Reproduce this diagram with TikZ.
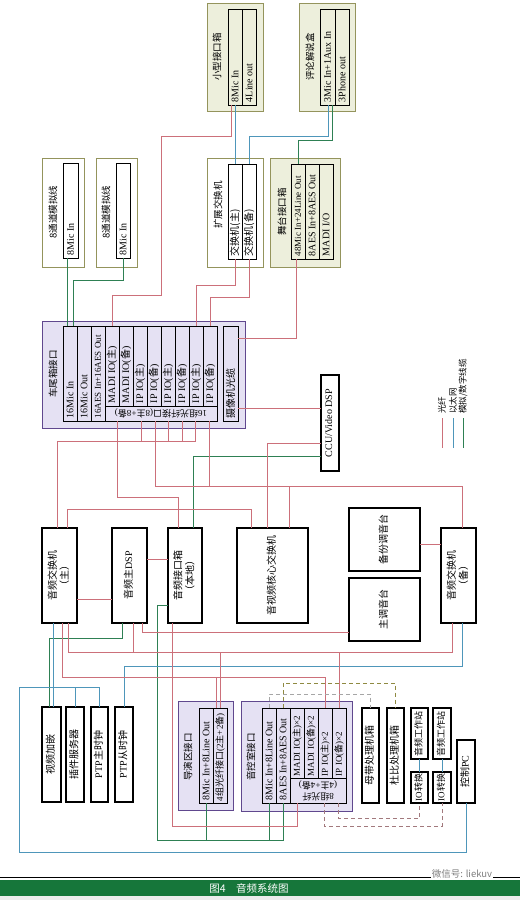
\documentclass[tikz,border=0pt]{standalone}
\usepackage{fontspec}
\usepackage{graphicx}
\setmainfont{Liberation Serif}
\newfontfamily\zh{Noto Sans CJK SC}
\definecolor{fibre}{RGB}{204,112,122}
\definecolor{ether}{RGB}{78,150,186}
\definecolor{analog}{RGB}{46,128,84}
\definecolor{olvfill}{RGB}{237,239,220}
\definecolor{olvline}{RGB}{148,148,92}
\definecolor{lavfill}{RGB}{229,225,243}
\definecolor{lavline}{RGB}{96,72,142}
\definecolor{band}{RGB}{22,118,58}
\newcommand{\vtxt}[2]{\rotatebox{90}{\makebox[#1][l]{#2}}}
\newcommand{\vmid}[1]{\rotatebox{90}{\begin{tabular}{@{}c@{}}#1\end{tabular}}}
\tikzset{
  base/.style={inner sep=0pt, outer sep=0pt, anchor=north west},
  dev/.style n args={2}{base, draw=black, line width=1.2pt, fill=white, minimum width=#1pt, minimum height=#2pt},
  port/.style n args={2}{base, draw=black, line width=1pt, minimum width=#1pt, minimum height=#2pt},
  olv group/.style n args={2}{base, draw=olvline, line width=1pt, fill=olvfill, minimum width=#1pt, minimum height=#2pt},
  wht group/.style n args={2}{base, draw=olvline, line width=1pt, fill=white, minimum width=#1pt, minimum height=#2pt},
  lav group/.style n args={2}{base, draw=lavline, line width=1pt, fill=lavfill, minimum width=#1pt, minimum height=#2pt},
  grp title/.style={rotate=90, inner sep=0pt, font=\zh\fontsize{9.5}{10}\selectfont},
  legend lbl/.style={rotate=90, anchor=west, inner sep=0pt, font=\zh\fontsize{8.5}{9}\selectfont},
  small/.style={font=\fontsize{9}{10}\selectfont},
  fib/.style={draw=fibre, line width=0.8pt},
  eth/.style={draw=ether, line width=0.8pt},
  ana/.style={draw=analog, line width=0.8pt},
  dsh/.style={dash pattern=on 4pt off 3pt, line width=0.9pt}
}
\begin{document}
\begin{tikzpicture}[x=1pt, y=-1pt, font=\fontsize{10}{11}\selectfont]
\useasboundingbox (0,0) rectangle (520,900);

% top interface boxes
\node[olv group={56}{108}] (gSmall) at (207,3) {};
\node[grp title] (tSmall) at (217,57) {小型接口箱};
\node[port={14}{96}] (sm1) at (228,9) {\vtxt{90pt}{8Mic In}};
\node[port={14}{96}] (sm2) at (242,9) {\vtxt{90pt}{4Line out}};

\node[olv group={56}{108}] (gCom) at (299,3) {};
\node[grp title] (tCom) at (310,57) {评论解说盒};
\node[port={15}{96}] (cm1) at (320,9) {\vtxt{90pt}{3Mic In+1Aux In}};
\node[port={14}{96}] (cm2) at (335,9) {\vtxt{90pt}{3Phone out}};

\node[wht group={42}{109}] (gAna1) at (42,158) {};
\node[grp title] (tAna1) at (53,212) {8通道模拟线};
\node[port={15}{95}] (a1) at (63,163) {\vtxt{89pt}{8Mic In}};

\node[wht group={41}{109}] (gAna2) at (96,158) {};
\node[grp title] (tAna2) at (106,212) {8通道模拟线};
\node[port={14}{95}] (a2) at (116,163) {\vtxt{89pt}{8Mic In}};

\node[wht group={56}{109}] (gExt) at (207,158) {};
\node[grp title] (tExt) at (218,205) {扩展交换机};
\node[port={14}{95}] (e1) at (228,164) {\vtxt{89pt}{\zh 交换机(主)}};
\node[port={14}{95}] (e2) at (242,164) {\vtxt{89pt}{\zh 交换机(备)}};

\node[olv group={70}{109}] (gStage) at (270,158) {};
\node[grp title] (tStage) at (282,212) {舞台接口箱};
\node[port={14}{95}, small] (s1) at (291,164) {\vtxt{89pt}{48Mic In+24Line Out}};
\node[port={14}{95}] (s2) at (305,164) {\vtxt{89pt}{8AES In+8AES Out}};
\node[port={14}{95}] (s3) at (319,164) {\vtxt{89pt}{MADI I/O}};

% truck tail interface
\node[lav group={203}{107}] (gTail) at (42,321) {};
\node[grp title] (tTail) at (53,374) {车尾箱接口};
\node[port={14}{95}] (t1) at (63,326) {\vtxt{89pt}{16Mic In}};
\node[port={14}{95}] (t2) at (77,326) {\vtxt{89pt}{16Mic Out}};
\node[port={14}{95}, small] (t3) at (91,326) {\vtxt{89pt}{16AES In+16AES Out}};
\node[port={14}{80}] (t4) at (105,326) {\vtxt{74pt}{MADI IO({\zh 主})}};
\node[port={14}{80}] (t5) at (119,326) {\vtxt{74pt}{MADI IO({\zh 备})}};
\node[port={14}{80}] (t6) at (133,326) {\vtxt{74pt}{IP IO({\zh 主})}};
\node[port={14}{80}] (t7) at (147,326) {\vtxt{74pt}{IP IO({\zh 备})}};
\node[port={14}{80}] (t8) at (161,326) {\vtxt{74pt}{IP IO({\zh 主})}};
\node[port={14}{80}] (t9) at (175,326) {\vtxt{74pt}{IP IO({\zh 备})}};
\node[port={14}{80}] (t10) at (189,326) {\vtxt{74pt}{IP IO({\zh 主})}};
\node[port={14}{80}] (t11) at (203,326) {\vtxt{74pt}{IP IO({\zh 备})}};
\node[port={112}{15}, small] (tFib) at (105,406) {\rotatebox{180}{16{\zh 组光纤接口}(8{\zh 主}+8{\zh 备})}};
\node[port={15}{95}] (tCam) at (223,326) {\vtxt{89pt}{\zh 摄像机光缆}};

% main devices
\node[dev={18}{96}] (ccu) at (321,375) {\vmid{CCU/Video DSP}};
\node[dev={35}{95}] (swA) at (42,528) {\vmid{\zh 音频交换机\\\zh （主）}};
\node[dev={35}{95}] (dsp) at (112,528) {\vmid{{\zh 音频主}DSP}};
\node[dev={34}{95}] (loc) at (168,528) {\vmid{\zh 音频接口箱\\\zh （本地）}};
\node[dev={71}{95}] (core) at (237,528) {\vmid{\zh 音视频核心交换机}};
\node[dev={71}{63}] (bak) at (349,508) {\vmid{\zh 备份调音台}};
\node[dev={71}{63}] (main) at (349,578) {\vmid{\zh 主调音台}};
\node[dev={35}{95}] (swB) at (441,528) {\vmid{\zh 音频交换机\\\zh （备）}};

% legend
\draw[fib] (442,418) -- (442,448);
\draw[eth] (453,418) -- (453,448);
\draw[ana] (463,418) -- (463,448);
\node[legend lbl] (lFib) at (442,414) {光纤};
\node[legend lbl] (lEth) at (453,414) {以太网};
\node[legend lbl] (lAna) at (463,414) {模拟/数字线缆};

% lower left devices
\node[dev={19}{95}] (vid) at (42,707) {\vmid{\zh 视频加嵌}};
\node[dev={18}{95}] (plug) at (66,707) {\vmid{\zh 插件服务器}};
\node[dev={17}{95}] (ptpM) at (91,707) {\vmid{PTP{\zh 主时钟}}};
\node[dev={18}{95}] (ptpS) at (115,707) {\vmid{PTP{\zh 从时钟}}};

% director and control room interfaces
\node[lav group={55}{109}] (gDir) at (178,701) {};
\node[grp title] (tDir) at (188,757) {导演区接口};
\node[port={14}{95}] (d1) at (199,708) {\vtxt{89pt}{8Mic In+8Line Out}};
\node[port={14}{95}, small] (d2) at (213,708) {\vtxt{91pt}{4{\zh 组光纤接口}(2{\zh 主}+2{\zh 备})}};

\node[lav group={111}{110}] (gCtl) at (241,701) {};
\node[grp title] (tCtl) at (251,757) {音控室接口};
\node[port={14}{95}] (c1) at (262,708) {\vtxt{89pt}{8Mic In+8Line Out}};
\node[port={14}{95}] (c2) at (276,708) {\vtxt{89pt}{8AES In+8AES Out}};
\node[port={14}{70}, small] (c3) at (290,708) {\vtxt{66pt}{MADI IO({\zh 主})×2}};
\node[port={14}{70}, small] (c4) at (304,708) {\vtxt{66pt}{MADI IO({\zh 备})×2}};
\node[port={14}{70}, small] (c5) at (318,708) {\vtxt{66pt}{IP IO({\zh 主})×2}};
\node[port={14}{70}, small] (c6) at (332,708) {\vtxt{66pt}{IP IO({\zh 备})×2}};
\node[port={56}{25}, font=\fontsize{9}{10}\selectfont] (cFib) at (290,778) {\rotatebox{180}{\begin{tabular}{@{}c@{}}8{\zh 组光纤}\\(4{\zh 主}+4{\zh 备})\end{tabular}}};

% lower right devices
\node[dev={17}{95}] (mst) at (362,708) {\vmid{\zh 母带处理机箱}};
\node[dev={17}{95}] (dol) at (387,708) {\vmid{\zh 杜比处理机箱}};
\node[dev={17}{51}, small] (ws1) at (411,708) {\vmid{\zh 音频工作站}};
\node[dev={17}{31}, small] (io1) at (411,772) {\vmid{IO{\zh 转换}}};
\node[dev={18}{51}, small] (ws2) at (433,708) {\vmid{\zh 音频工作站}};
\node[dev={18}{31}, small] (io2) at (433,772) {\vmid{IO{\zh 转换}}};
\node[dev={18}{63}] (pc) at (457,740) {\vmid{{\zh 控制}PC}};

% analog / digital cables
\draw[ana] (a1.south -| 67,0) -- (t1.north -| 67,0);
\draw[ana] (a2.south) |- (73,280) -- (t1.north -| 73,0);
\draw[ana] (cm1.south -| 332,0) |- (298,140) -- (s1.north -| 298,0);
\draw[ana] (ccu.west |- 0,456) -| (loc.north -| 193,0);
\draw[ana] (loc.west |- 0,605) -| (157,840) -| (c2.south);
\draw[ana] (d1.south) -- (d1.south |- 0,840);
\draw[ana] (c1.south) -- (c1.south |- 0,840);
\draw[ana] (dsp.south -| 122,0) |- (49,638) -- (vid.north -| 49,0);

% ethernet
\draw[eth] (sm1.south) -- (e1.north);
\draw[eth] (cm1.south -| 328,0) |- (e2.north |- 0,136) -- (e2.north);
\draw[eth] (swA.south -| 53,0) -- (vid.north -| 53,0);
\draw[eth] (pc.south) |- (19,852) |- (ptpM.north |- 0,687) -- (ptpM.north);
\draw[eth] (plug.north) -- (plug.north |- 0,687);
\draw[eth] (swB.south -| 462,0) |- (ptpS.north |- 0,666) -- (ptpS.north);
\draw[eth] (ws1) -- (io1);
\draw[eth] (ws2) -- (io2);

% fibre
\draw[fib] (sm1.south -| 231,0) |- (161,136) |- (t4.north |- 0,295) -- (t4.north);
\draw[fib] (e1.south) |- (t10.north |- 0,285) -- (t10.north);
\draw[fib] (e2.south) |- (t11.north |- 0,297) -- (t11.north);
\draw[fib] (s1.south -| 296,0) |- (tCam.east |- 0,338);
\draw[fib] (tCam.east |- 0,408) -- (ccu.west |- 0,408);
\draw[fib] (tFib.south -| 117,0) |- (178,497) -- (loc.north -| 178,0);
\draw[fib] (tFib.south -| 195,0) |- (57,441) -- (swA.north -| 57,0);
\foreach \x in {141,168,182}
  \draw[fib] (tFib.south -| \x,0) -- (\x,441);
\draw[fib] (tFib.south -| 155,0) |- (462,486) -- (swB.north -| 462,0);
\draw[fib] (tFib.south -| 209,0) -- (209,486);
\draw[fib] (ccu.west |- 0,443) -| (core.north -| 267,0);
\draw[fib] (289,486) -- (core.north -| 289,0);
\draw[fib] (swA.north -| 67,0) |- (251,509) -- (core.north -| 251,0);
\draw[fib] (swA.east |- 0,599) -- (dsp.west |- 0,599);
\draw[fib] (dsp.east |- 0,559) -- (loc.west |- 0,559);
\draw[fib] (bak.east |- 0,544) -- (swB.west |- 0,544);
\draw[fib] (dsp.south -| 142,0) |- (main.west |- 0,632);
\draw[fib] (swA.south -| 68,0) |- (452,652) -- (swB.south -| 452,0);
\draw[fib] (dsp.south -| 133,0) -- (133,652);
\draw[fib] (220,652) -- (d2.north -| 220,0);
\draw[fib] (339,652) -- (c6.north -| 339,0);
\draw[fib] (swA.south -| 62,0) |- (325,677) -- (c5.north -| 325,0);
\draw[fib] (216,677) -- (d2.north -| 216,0);
\draw[fib] (loc.south -| 172,0) |- (297,826) -- (cFib.south -| 297,0);

% dashed links
\draw[dsh, draw=gray!70] (c1.north) |- (mst.north |- 0,694) -- (mst.north);
\draw[dsh, draw=olive!55!gray] (c2.north) |- (dol.north |- 0,683) -- (dol.north);
\draw[dsh, draw=fibre!45!gray] (cFib.south -| 338,0) |- (io1.south |- 0,818) -- (io1.south);
\draw[dsh, draw=fibre!45!gray] (cFib.south -| 324,0) |- (io2.south |- 0,826) -- (io2.south);

% caption band
\draw[line width=1pt] (0,877) -- (520,877);
\fill[band] (0,880) rectangle (520,896);
\fill[gray!15] (0,896) rectangle (520,900);
\node[text=white, font=\zh\fontsize{10.5}{11}\selectfont] (cap) at (249,888) {图4\quad 音频系统图};
\node[text=gray, fill=white, inner sep=1pt, font=\zh\fontsize{9.5}{10}\selectfont] (wm) at (462,874) {微信号: liekuv};
\end{tikzpicture}
\end{document}
